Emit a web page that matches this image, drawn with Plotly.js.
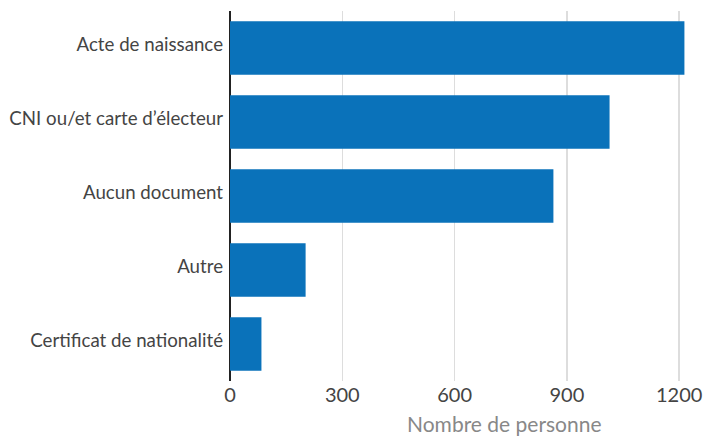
<!DOCTYPE html>
<html>
<head>
<meta charset="utf-8">
<script src="https://cdn.plot.ly/plotly-3.0.1.min.js"></script>
<style>html,body{margin:0;padding:0;background:#fff;}#chart{width:720px;height:438px;}</style>
</head>
<body>
<div id="chart"></div>
<script>
const categories = ["Acte de naissance", "CNI ou/et carte d\u2019électeur", "Aucun document", "Autre", "Certificat de nationalité"];
const values = [1214, 1014, 864, 202, 84];
const xTicks = [0, 300, 600, 900, 1200];
const xTitle = "Nombre de personne";

const trace = {
  type: "bar",
  orientation: "h",
  y: categories,
  x: values,
  marker: {color: "#0a72ba"},
  hoverinfo: "x+y"
};

const layout = {
  width: 720,
  height: 438,
  margin: {l: 230, r: 12, t: 11, b: 57},
  paper_bgcolor: "#ffffff",
  plot_bgcolor: "#ffffff",
  font: {family: "Lato, 'Open Sans', sans-serif", color: "#444444"},
  bargap: 0.28,
  showlegend: false,
  xaxis: {
    range: [0, 1277],
    tickvals: xTicks,
    ticktext: xTicks.map(String),
    showgrid: true,
    gridcolor: "#dddddd",
    gridwidth: 1.5,
    zeroline: true,
    zerolinecolor: "#222222",
    zerolinewidth: 2,
    showline: false,
    ticks: "",
    tickfont: {size: 20, color: "#444444"},
    fixedrange: true
  },
  yaxis: {
    autorange: "reversed",
    showgrid: false,
    zeroline: false,
    showline: false,
    ticks: "",
    ticklabelstandoff: 6,
    ticklabelshift: 4,
    tickfont: {size: 18.7, color: "#444444"},
    fixedrange: true
  },
  annotations: [{
    text: xTitle,
    xref: "paper", yref: "paper",
    x: 0.575, y: 0,
    xanchor: "center", yanchor: "top",
    yshift: -28,
    showarrow: false,
    font: {size: 21, color: "#888888"}
  }]
};

Plotly.newPlot("chart", [trace], layout, {displayModeBar: false, staticPlot: true});
</script>
</body>
</html>
